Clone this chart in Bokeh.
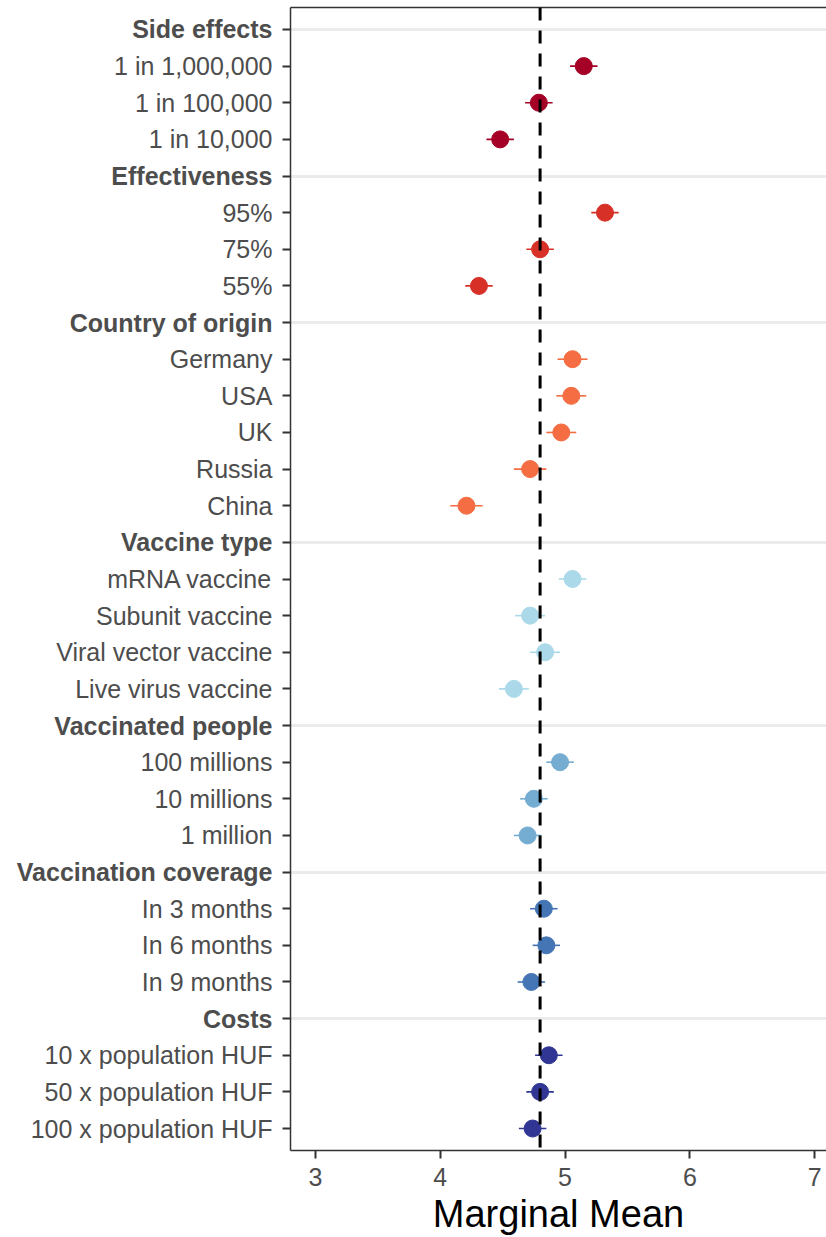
from bokeh.plotting import figure
from bokeh.layouts import row
from bokeh.models import ColumnDataSource, FixedTicker, Span, LinearAxis, Range1d
from bokeh.core.properties import value
from bokeh.embed import file_html
from bokeh.resources import INLINE

# ---------------- data ----------------
groups = ["Side effects", "Effectiveness", "Country of origin", "Vaccine type",
          "Vaccinated people", "Vaccination coverage", "Costs"]

levels = [
    ["1 in 1,000,000", "1 in 100,000", "1 in 10,000"],
    ["95%", "75%", "55%"],
    ["Germany", "USA", "UK", "Russia", "China"],
    ["mRNA vaccine", "Subunit vaccine", "Viral vector vaccine", "Live virus vaccine"],
    ["100 millions", "10 millions", "1 million"],
    ["In 3 months", "In 6 months", "In 9 months"],
    ["10 x population HUF", "50 x population HUF", "100 x population HUF"],
]

means = [
    [5.15, 4.79, 4.48],
    [5.32, 4.80, 4.31],
    [5.06, 5.05, 4.97, 4.72, 4.21],
    [5.06, 4.72, 4.84, 4.59],
    [4.96, 4.75, 4.70],
    [4.83, 4.85, 4.73],
    [4.87, 4.80, 4.74],
]

lowers = [
    [5.04, 4.68, 4.37],
    [5.21, 4.69, 4.20],
    [4.94, 4.93, 4.85, 4.59, 4.08],
    [4.95, 4.60, 4.72, 4.47],
    [4.85, 4.64, 4.59],
    [4.72, 4.74, 4.62],
    [4.76, 4.69, 4.63],
]

uppers = [
    [5.26, 4.90, 4.59],
    [5.43, 4.91, 4.42],
    [5.18, 5.17, 5.09, 4.85, 4.34],
    [5.17, 4.84, 4.96, 4.71],
    [5.07, 4.86, 4.81],
    [4.94, 4.96, 4.84],
    [4.98, 4.91, 4.85],
]

group_colors = ["#a50026", "#d73027", "#f46d43", "#abd9e9", "#74add1", "#4575b4", "#313695"]

reference_mean = 4.8
x_ticks = [3, 4, 5, 6, 7]

# ---------------- build rows ----------------
n_rows = sum(1 + len(l) for l in levels)
row_y = []
hdr = dict(y=[], text=[])
itm = dict(y=[], text=[])
pt = dict(y=[], mean=[], lo=[], hi=[], color=[])
i = 0
for g, lv, m, lo, hi, c in zip(groups, levels, means, lowers, uppers, group_colors):
    y = n_rows - i
    hdr["y"].append(y); hdr["text"].append(g)
    row_y.append(y)
    i += 1
    for name, mm, l, h in zip(lv, m, lo, hi):
        y = n_rows - i
        row_y.append(y)
        itm["y"].append(y); itm["text"].append(name)
        pt["y"].append(y); pt["mean"].append(mm); pt["lo"].append(l)
        pt["hi"].append(h); pt["color"].append(c)
        i += 1

src = ColumnDataSource(pt)
hdr_src = ColumnDataSource(hdr)
itm_src = ColumnDataSource(itm)

FONT = "Liberation Sans"
GREY = "#4d4d4d"
AX = "#333333"

H = 1237
TOP = 7
BOTTOM = 84
LABEL_W = 274
y_range = Range1d(0.4, n_rows + 0.6)

# ---------------- label column (category names) ----------------
lab = figure(width=LABEL_W, height=H, output_backend="svg", toolbar_location=None,
             x_range=Range1d(0, 1), y_range=y_range,
             x_axis_location=None, y_axis_location=None,
             min_border_left=0, min_border_right=0, min_border_top=TOP, min_border_bottom=BOTTOM,
             background_fill_color="white", border_fill_color="white")
lab.outline_line_color = None
lab.grid.grid_line_color = None
lab.text(x=1, y="y", text="text", source=itm_src, x_offset=-2,
         text_align="right", text_baseline="middle",
         text_font=value(FONT), text_font_size="25px", text_color=GREY)
lab.text(x=1, y="y", text="text", source=hdr_src, x_offset=-2,
         text_align="right", text_baseline="middle",
         text_font=value(FONT), text_font_size="25px", text_font_style="bold",
         text_color=GREY)

# ---------------- main panel ----------------
x_start, x_end = 2.8, 7.095
p = figure(width=826 - LABEL_W, height=H, output_backend="svg", toolbar_location=None,
           x_range=Range1d(x_start, x_end), y_range=y_range,
           min_border_left=290 - LABEL_W, min_border_right=0, min_border_top=TOP,
           min_border_bottom=BOTTOM,
           background_fill_color="white", border_fill_color="white")
p.outline_line_color = None

# header gridlines only
p.xgrid.grid_line_color = None
p.ygrid.ticker = FixedTicker(ticks=hdr["y"])
p.ygrid.grid_line_color = "#ebebeb"
p.ygrid.grid_line_width = 3

# error bars and points
p.segment(x0="lo", y0="y", x1="hi", y1="y", line_color="color", line_width=1.6, source=src)
p.scatter(x="mean", y="y", size=17, fill_color="color", line_color="color", source=src)

p.add_layout(Span(location=reference_mean, dimension="height", line_color="black",
                  line_width=3, line_dash="13 10"))

# y axis: ticks only (names are drawn in the label column)
ya = p.yaxis[0]
ya.ticker = FixedTicker(ticks=row_y)
ya.major_label_text_color = None
ya.major_label_text_font_size = "1px"
ya.major_label_standoff = 0
ya.major_tick_out = 8
ya.major_tick_in = 0
ya.minor_tick_out = 0
ya.minor_tick_in = 0
ya.major_tick_line_color = AX
ya.major_tick_line_width = 2
ya.axis_line_color = AX
ya.axis_line_width = 1.5

# x axis
xa = p.xaxis[0]
xa.ticker = FixedTicker(ticks=x_ticks)
xa.major_label_text_font = FONT
xa.major_label_text_font_size = "25px"
xa.major_label_text_color = GREY
xa.major_tick_out = 8
xa.major_tick_in = 0
xa.minor_tick_out = 0
xa.minor_tick_in = 0
xa.major_tick_line_color = AX
xa.major_tick_line_width = 2
xa.axis_line_color = AX
xa.axis_line_width = 1.5
xa.major_label_standoff = 9
xa.axis_label = "Marginal Mean"
xa.axis_label_text_font = FONT
xa.axis_label_text_font_size = "38px"
xa.axis_label_text_font_style = "normal"
xa.axis_label_text_color = "black"
xa.axis_label_standoff = 4

# top border line
top = LinearAxis(ticker=FixedTicker(ticks=[]), major_label_text_color=None,
                 major_label_text_font_size="1px",
                 major_tick_out=0, major_tick_in=0, minor_tick_out=0, minor_tick_in=0,
                 major_label_standoff=0, axis_line_color=AX, axis_line_width=1.5)
p.add_layout(top, "above")

layout = row(lab, p, spacing=0)
open("out.html", "w").write(file_html(layout, INLINE))
